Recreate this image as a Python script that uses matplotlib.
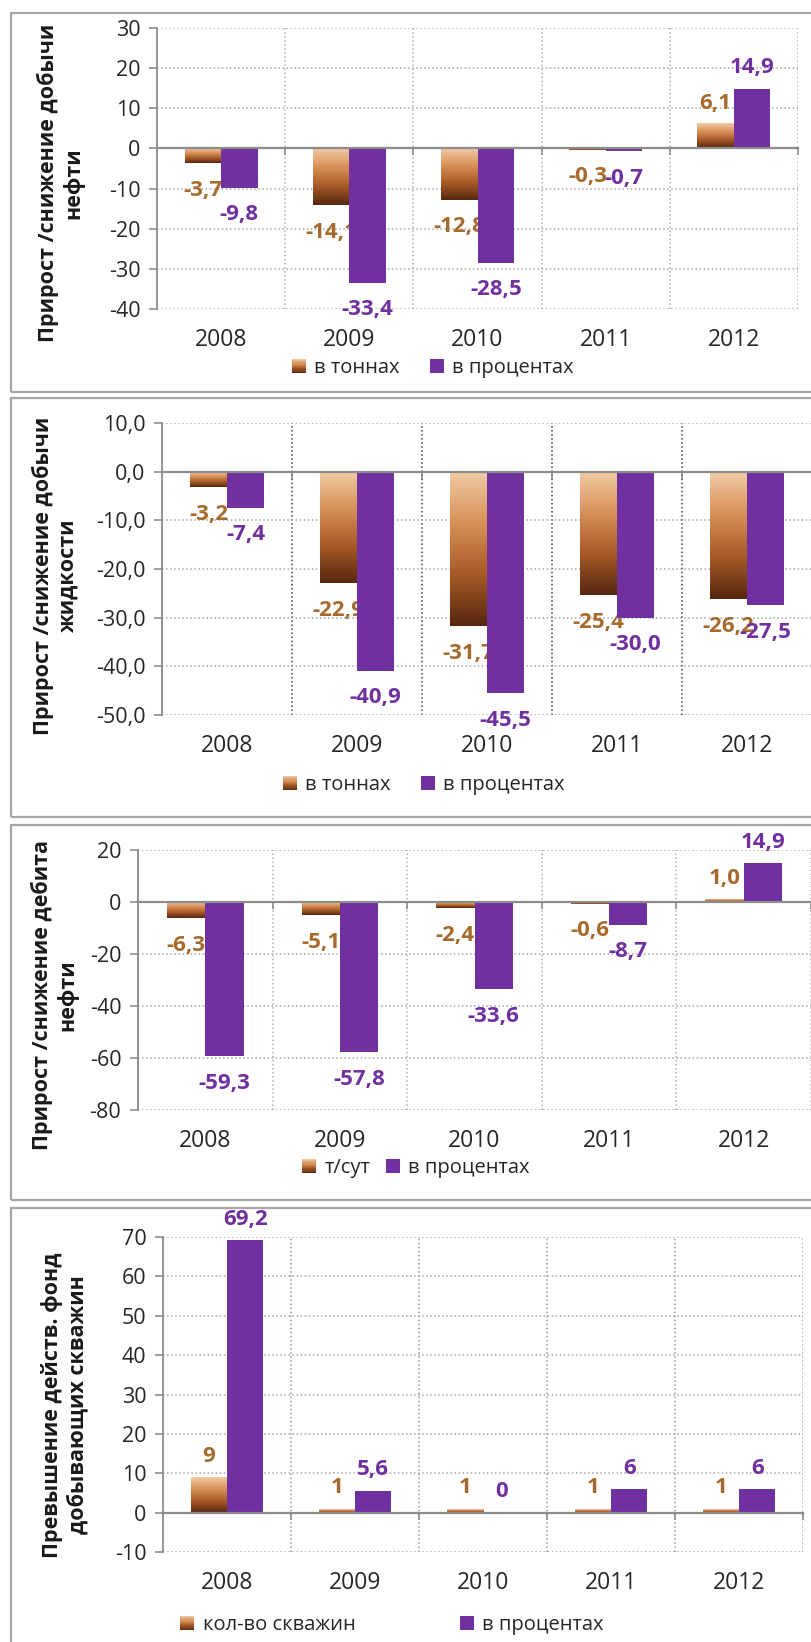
import numpy as np
import matplotlib
matplotlib.use('Agg')
import matplotlib.pyplot as plt
from matplotlib.colors import LinearSegmentedColormap
from matplotlib.patches import Rectangle
from matplotlib.legend_handler import HandlerBase
from matplotlib.ticker import FuncFormatter, MultipleLocator

years = ['2008', '2009', '2010', '2011', '2012']

# добыча нефти
oil_t = [-3.7, -14.1, -12.8, -0.3, 6.1]
oil_pct = [-9.8, -33.4, -28.5, -0.7, 14.9]

# добыча жидкости
liquid_t = [-3.2, -22.9, -31.7, -25.4, -26.2]
liquid_pct = [-7.4, -40.9, -45.5, -30.0, -27.5]

# дебит нефти
rate_t = [-6.3, -5.1, -2.4, -0.6, 1.0]
rate_pct = [-59.3, -57.8, -33.6, -8.7, 14.9]

# действующий фонд скважин
wells_n = [9, 1, 1, 1, 1]
wells_pct = [69.2, 5.6, 0, 6, 6]

W, H = 811, 1642
PURPLE = '#7030A0'
BROWN_TXT = '#A86A2C'
GRAY = '#8C8C8C'
BAR_W = 0.285
brown_cmap = LinearSegmentedColormap.from_list(
    'brown', ['#F0CCA6', '#D89058', '#A85A26', '#552710'])

plt.rcParams['font.family'] = ['Open Sans', 'DejaVu Sans']
plt.rcParams['axes.unicode_minus'] = False

fig = plt.figure(figsize=(W / 100, H / 100), dpi=100)


def px_box(left, top, right, bottom):
    return [left / W, 1 - bottom / H, (right - left) / W, (bottom - top) / H]


def comma(fmt):
    return lambda v, pos=None: fmt.format(v).replace('.', ',')


class GradientSquare(HandlerBase):
    def create_artists(self, legend, orig_handle, xdescent, ydescent,
                       width, height, fontsize, trans):
        n = 12
        strips = []
        for i in range(n):
            c = brown_cmap(1 - (i + 0.5) / n)
            strips.append(Rectangle((-xdescent, -ydescent + height * i / n),
                                    width, height / n * 1.05, facecolor=c,
                                    edgecolor='none', transform=trans))
        return strips


def gradient_bars(ax, x, vals):
    bars = ax.bar(x, vals, BAR_W, color='none', linewidth=0, zorder=2)
    grad = brown_cmap(np.linspace(0, 1, 256))[:, None, :3]
    for b in bars:
        x0, w = b.get_x(), b.get_width()
        y0, h = b.get_y(), b.get_height()
        lo, hi = min(y0, y0 + h), max(y0, y0 + h)
        if hi == lo:
            continue
        ax.imshow(grad, extent=(x0, x0 + w, lo, hi), origin='upper',
                  aspect='auto', zorder=2, interpolation='bilinear')
    return bars


def label_bars(ax, x, vals, fmt, color, z):
    for xi, v in zip(x, vals):
        dy = 15 if v >= 0 else -19.5
        ax.annotate(fmt(v), (xi, v), xytext=(0, dy), textcoords='offset points',
                    ha='center', va='center', color=color, fontsize=16,
                    fontweight='bold', zorder=z)


panels = [
    dict(frame=(11, 13, 392), box=(157, 28, 798, 309),
         t=oil_t, p=oil_pct, ylim=(-40, 30), tick_fmt='{:.0f}', lab_fmt='{:.1f}',
         ylabel='Прирост /снижение добычи\nнефти', ylab_xy=(61, 183),
         legend=['в тоннах', 'в процентах'], leg_xy=(433, 368), colsp=1.5,
         vgrid='#B0B0B0'),
    dict(frame=(11, 398, 817), box=(162, 423, 812, 715),
         t=liquid_t, p=liquid_pct, ylim=(-50, 10), tick_fmt='{:.1f}', lab_fmt='{:.1f}',
         ylabel='Прирост /снижение добычи\nжидкости', ylab_xy=(55, 576),
         legend=['в тоннах', 'в процентах'], leg_xy=(424, 785), colsp=1.5,
         vgrid='#404040'),
    dict(frame=(11, 825, 1200), box=(138, 850, 811, 1110),
         t=rate_t, p=rate_pct, ylim=(-80, 20), tick_fmt='{:.0f}', lab_fmt='{:.1f}',
         ylabel='Прирост /снижение дебита\nнефти', ylab_xy=(55, 995),
         legend=['т/сут', 'в процентах'], leg_xy=(416, 1168), colsp=0.8,
         vgrid='#B0B0B0'),
    dict(frame=(11, 1208, 1660), box=(163, 1237, 803, 1552),
         t=wells_n, p=wells_pct, ylim=(-10, 70), tick_fmt='{:.0f}', lab_fmt='{:g}',
         ylabel='Превышение действ. фонд\nдобывающих скважин', ylab_xy=(65, 1405),
         legend=['кол-во скважин', 'в процентах'], leg_xy=(392, 1625), colsp=5.2,
         vgrid='#999999'),
]

x = np.arange(len(years))
for cfg in panels:
    fl, ft, fb = cfg['frame']
    fig.add_artist(Rectangle((fl / W, 1 - fb / H), (W + 40 - fl) / W, (fb - ft) / H,
                             transform=fig.transFigure, fill=False,
                             edgecolor='#A6A6A6', linewidth=1.6))

    ax = fig.add_axes(px_box(*cfg['box']))
    gradient_bars(ax, x - BAR_W / 2, cfg['t'])
    ax.bar(x + BAR_W / 2, cfg['p'], BAR_W, color=PURPLE, linewidth=0, zorder=4)
    label_bars(ax, x - BAR_W / 2, cfg['t'], comma(cfg['lab_fmt']), BROWN_TXT, 3)
    label_bars(ax, x + BAR_W / 2, cfg['p'], comma(cfg['lab_fmt']), PURPLE, 5)

    ax.set_xlim(-0.5, len(years) - 0.5)
    ax.set_ylim(*cfg['ylim'])
    ax.yaxis.set_major_locator(MultipleLocator(10 if cfg['ylim'][0] > -60 else 20))
    ax.yaxis.set_major_formatter(FuncFormatter(comma(cfg['tick_fmt'])))

    # category axis crosses at zero, labels sit at the bottom
    ax.set_xticks(np.arange(0.5, len(years), 1))
    ax.tick_params(axis='x', length=5, width=1.2, color=GRAY, labelbottom=False)
    ax.spines['bottom'].set_position(('data', 0))
    ax.spines['bottom'].set_color(GRAY)
    ax.spines['bottom'].set_linewidth(1.6)
    ax.spines['bottom'].set_zorder(4.5)
    ax.spines['left'].set_color(GRAY)
    ax.spines['left'].set_linewidth(1.3)
    for s in ('top', 'right'):
        ax.spines[s].set_visible(False)
    ax.tick_params(axis='y', length=6, width=1.2, color=GRAY, pad=6,
                   labelsize=15.5, labelcolor='#262626')

    sec = ax.secondary_xaxis('bottom')
    sec.set_xticks(x, years)
    sec.tick_params(length=0, pad=14, labelsize=16.5, labelcolor='#262626')
    sec.spines['bottom'].set_visible(False)

    ax.set_axisbelow(True)
    ax.grid(axis='y', linestyle=':', color='#A6A6A6', linewidth=1.1)
    ax.grid(axis='x', linestyle=':', color=cfg['vgrid'], linewidth=1.1)

    lx, ly = cfg['ylab_xy']
    fig.text(lx / W, 1 - ly / H, cfg['ylabel'], rotation=90, ha='center',
             va='center', multialignment='center', fontsize=15.5,
             fontweight='bold', linespacing=1.2, color='#1a1a1a')

    brown_handle = Rectangle((0, 0), 1, 1)
    purple_handle = Rectangle((0, 0), 1, 1, facecolor=PURPLE)
    gx, gy = cfg['leg_xy']
    fig.legend([brown_handle, purple_handle], cfg['legend'], loc='center',
               bbox_to_anchor=(gx / W, 1 - gy / H), ncol=2, frameon=False,
               handlelength=0.7, handleheight=0.7, handletextpad=0.4,
               columnspacing=cfg['colsp'], fontsize=14.5, labelcolor='#262626',
               handler_map={brown_handle: GradientSquare()})

fig.savefig('out.png', dpi=100, facecolor='white')
